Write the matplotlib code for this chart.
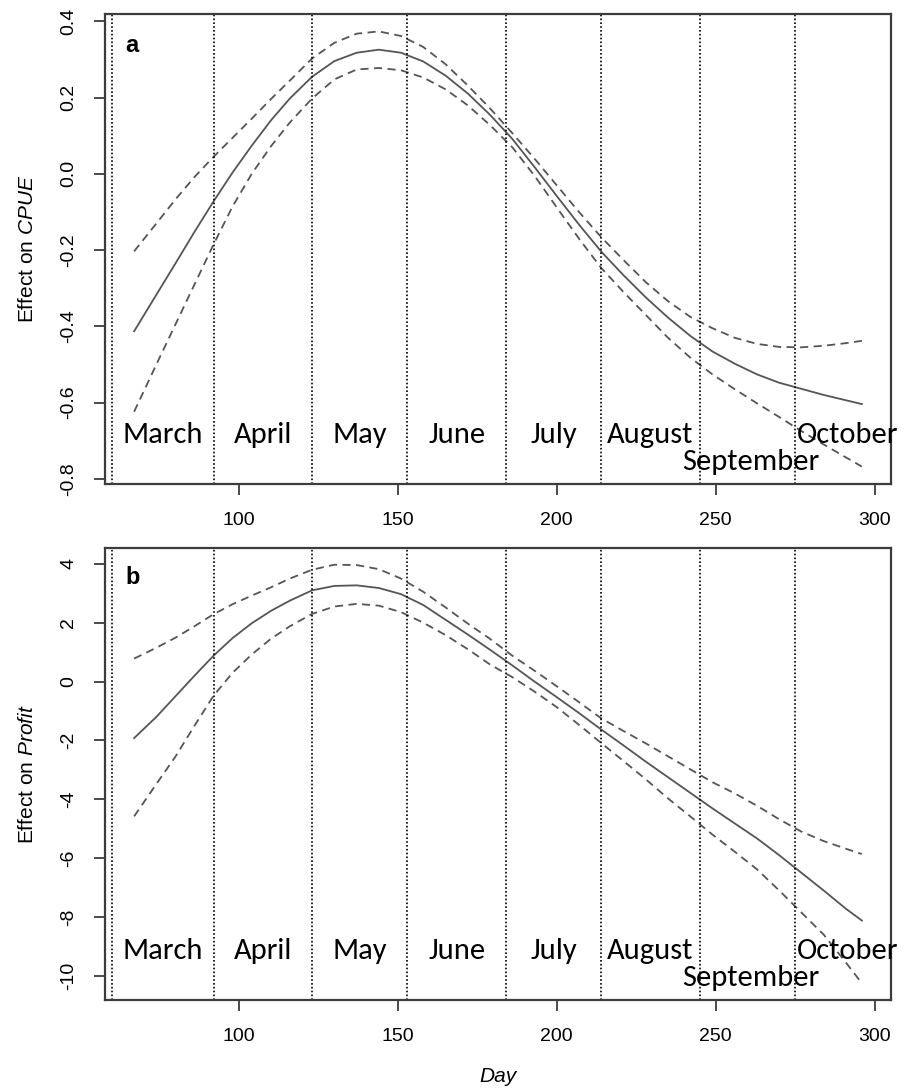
import matplotlib
matplotlib.use('Agg')
import matplotlib.pyplot as plt
from matplotlib import font_manager


day = [67, 74, 80, 86, 92, 98, 104, 110, 116, 123, 130, 137, 144, 151, 158,
       165, 172, 179, 186, 193, 200, 207, 214, 221, 228, 235, 242, 249, 256,
       263, 270, 277, 284, 291, 296]

# panel a - effect on CPUE
cpue_fit = [-0.413, -0.317, -0.235, -0.152, -0.072, 0.004, 0.074, 0.14, 0.198,
            0.255, 0.296, 0.318, 0.326, 0.318, 0.295, 0.258, 0.211, 0.155,
            0.092, 0.018, -0.058, -0.133, -0.204, -0.266, -0.324, -0.377,
            -0.425, -0.466, -0.498, -0.526, -0.548, -0.564, -0.58, -0.594,
            -0.604]
cpue_upper = [-0.203, -0.13, -0.067, -0.008, 0.045, 0.095, 0.145, 0.196,
              0.245, 0.303, 0.344, 0.368, 0.374, 0.362, 0.333, 0.288, 0.232,
              0.172, 0.107, 0.04, -0.03, -0.1, -0.166, -0.226, -0.284,
              -0.334, -0.375, -0.405, -0.43, -0.446, -0.454, -0.455, -0.451,
              -0.444, -0.438]
cpue_lower = [-0.624, -0.5, -0.395, -0.29, -0.185, -0.085, 0.0, 0.072, 0.135,
              0.198, 0.248, 0.274, 0.278, 0.272, 0.253, 0.222, 0.18, 0.128,
              0.07, -0.005, -0.088, -0.17, -0.247, -0.31, -0.37, -0.43,
              -0.482, -0.526, -0.565, -0.602, -0.638, -0.675, -0.71, -0.744,
              -0.768]

# panel b - effect on Profit
profit_fit = [-1.92, -1.2, -0.5, 0.2, 0.88, 1.48, 1.98, 2.4, 2.75, 3.1,
              3.25, 3.27, 3.18, 2.97, 2.6, 2.1, 1.6, 1.08, 0.55, 0.0, -0.53,
              -1.07, -1.63, -2.17, -2.72, -3.25, -3.78, -4.31, -4.82, -5.33,
              -5.9, -6.5, -7.1, -7.72, -8.12]
profit_upper = [0.78, 1.15, 1.49, 1.88, 2.29, 2.63, 2.92, 3.2, 3.5, 3.8,
                3.97, 3.96, 3.82, 3.5, 3.05, 2.52, 1.97, 1.45, 0.88, 0.37,
                -0.16, -0.7, -1.25, -1.68, -2.1, -2.54, -2.98, -3.42, -3.8,
                -4.22, -4.68, -5.1, -5.42, -5.68, -5.86]
profit_lower = [-4.58, -3.48, -2.55, -1.5, -0.48, 0.3, 0.92, 1.45, 1.88, 2.3,
                2.55, 2.64, 2.58, 2.36, 2.0, 1.58, 1.1, 0.58, 0.15, -0.34,
                -0.87, -1.47, -2.09, -2.7, -3.32, -3.97, -4.58, -5.2, -5.78,
                -6.38, -7.1, -7.85, -8.6, -9.55, -10.25]

# month boundaries (day of year) and label centres
month_start = [60, 92, 123, 153, 184, 214, 245, 275]
month_mid = [76, 107.5, 138, 168.5, 199, 229.5, 261, 291.5]
month_names = ['March', 'April', 'May', 'June', 'July', 'August',
               'September', 'October']

xticks = [100, 150, 200, 250, 300]
cpue_ticks = [-0.8, -0.6, -0.4, -0.2, 0.0, 0.2, 0.4]
profit_ticks = [-10, -8, -6, -4, -2, 0, 2, 4]

plt.rcParams['font.family'] = 'Liberation Sans'
plt.rcParams['axes.unicode_minus'] = False
plt.rcParams['mathtext.fontset'] = 'custom'
plt.rcParams['mathtext.rm'] = 'Liberation Sans'
plt.rcParams['mathtext.it'] = 'Liberation Sans:italic'

avail = {f.name for f in font_manager.fontManager.ttflist}
month_font, month_size = 'DejaVu Sans', 19
for name, size in [('Carlito', 22), ('Lato', 21), ('Open Sans', 19)]:
    if name in avail:
        month_font, month_size = name, size
        break

W, H = 912, 1088
fig = plt.figure(figsize=(W / 100, H / 100), dpi=100)
ax1 = fig.add_axes([105 / W, 1 - 484 / H, 786 / W, 470 / H])
ax2 = fig.add_axes([105 / W, 1 - 1000 / H, 786 / W, 452 / H])

line_col = '#555555'
box_col = '#3c3c3c'

panels = [
    (ax1, cpue_fit, cpue_upper, cpue_lower, cpue_ticks, 'a', -0.685, -0.755,
     lambda v: '%.1f' % v),
    (ax2, profit_fit, profit_upper, profit_lower, profit_ticks, 'b', -9.15,
     -10.06, lambda v: '%d' % v),
]

for ax, fit, up, lo, yt, tag, ym, ysep, fmt in panels:
    ax.plot(day, fit, color=line_col, lw=1.3)
    ax.plot(day, up, color=line_col, lw=1.3, dashes=(4.5, 3))
    ax.plot(day, lo, color=line_col, lw=1.3, dashes=(4.5, 3))
    ax.margins(x=0.04, y=0.04)
    for d in month_start:
        ax.axvline(d, color='black', lw=1.2, linestyle=(0, (1, 1.3)))
    for xm, nm in zip(month_mid, month_names):
        yy = ysep if nm == 'September' else ym
        ax.text(xm, yy, nm, ha='center', va='center', fontsize=month_size,
                fontfamily=month_font, color='black')
    ax.text(0.026, 0.92, tag, transform=ax.transAxes, fontsize=17,
            fontweight='bold', va='baseline', ha='left')
    ax.set_xticks(xticks)
    ax.set_yticks(yt)
    ax.set_yticklabels([fmt(v) for v in yt], rotation=90, va='center')
    ax.tick_params(length=8, width=1.3, color=box_col, labelsize=14, pad=12)
    for s in ax.spines.values():
        s.set_color(box_col)
        s.set_linewidth(1.6)

fig.text(28 / W, 1 - 249 / H, 'Effect on $\\mathit{CPUE}$', rotation=90,
         ha='center', va='center', fontsize=15)
fig.text(28 / W, 1 - 774 / H, 'Effect on $\\mathit{Profit}$', rotation=90,
         ha='center', va='center', fontsize=15)
fig.text(498 / W, 1 - 1077 / H, 'Day', style='italic', ha='center',
         va='center', fontsize=15)

fig.savefig('out.png', dpi=100)
